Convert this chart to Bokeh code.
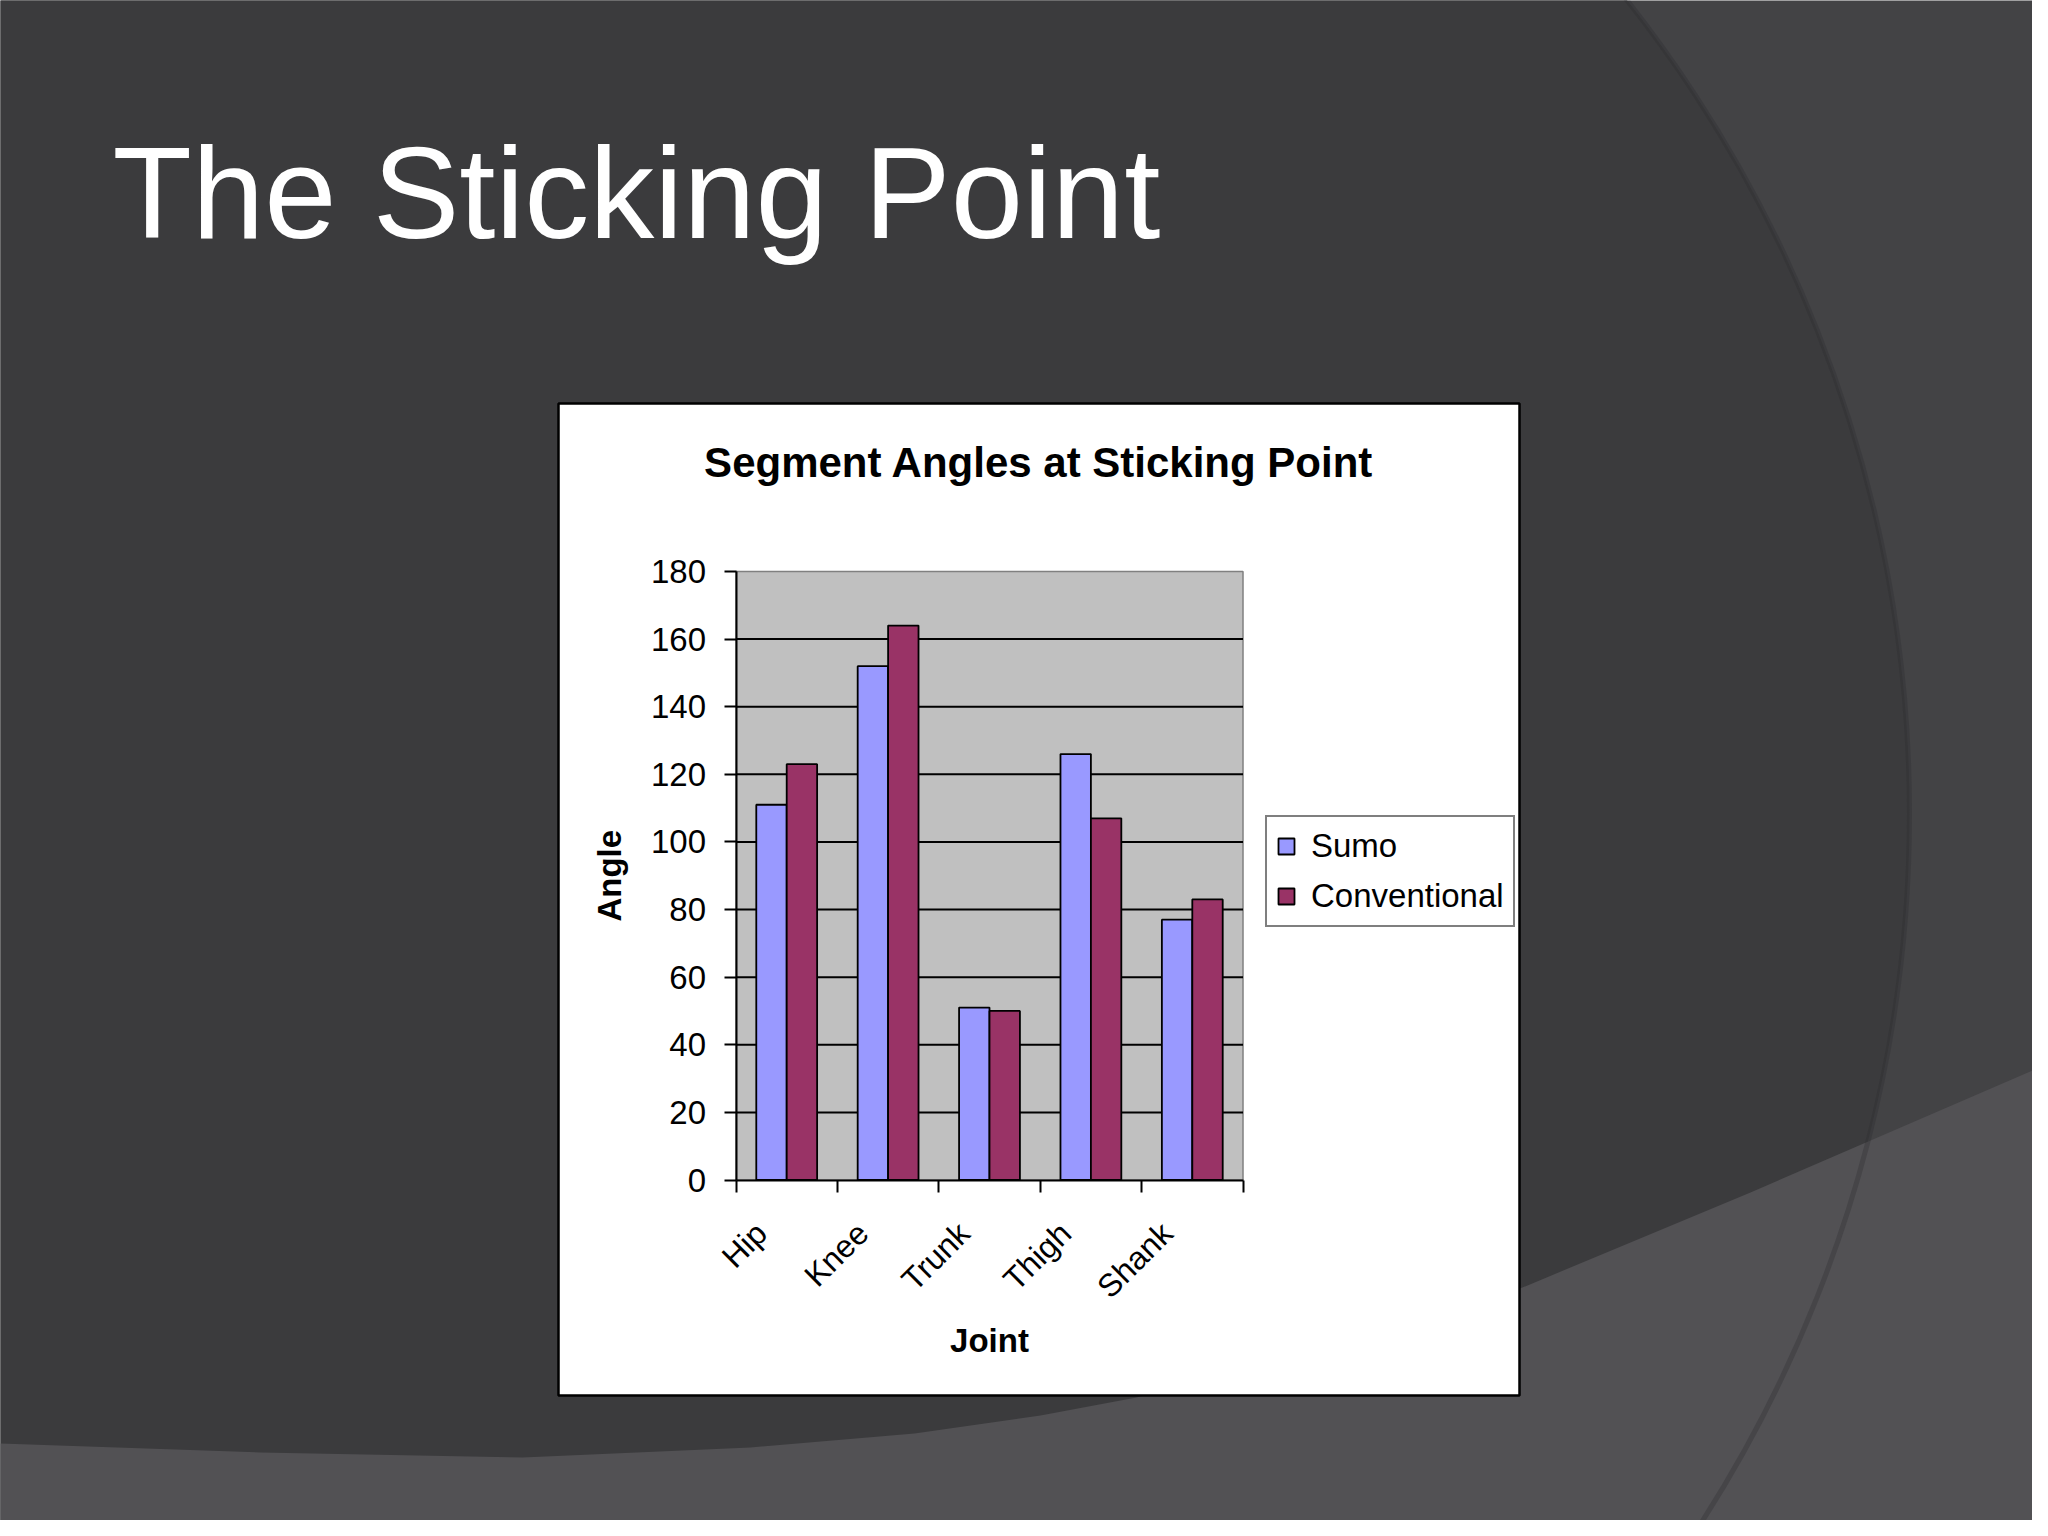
import math

import numpy as np
from bokeh.plotting import figure
from bokeh.models import Range1d, LinearAxis, FixedTicker, Label, Legend, LegendItem
from bokeh.embed import file_html
from bokeh.resources import INLINE


# Chart data
joints = ["Hip", "Knee", "Trunk", "Thigh", "Shank"]
sumo = [111, 152, 51, 126, 77]
conventional = [123, 164, 50, 107, 83]
y_ticks = [0, 20, 40, 60, 80, 100, 120, 140, 160, 180]

# Page layout, in slide pixels
X0, X1, Y0, Y1 = 0, 2032, 0, 1520
PLOT_L, PLOT_R, PLOT_T, PLOT_B = 735.5, 1242.5, 571, 1179.5
BOX = dict(left=558, right=1519, top=403, bottom=1395)

# slide backdrop shapes
ARC_X, ARC_Y, ARC_R = 597, 813, 1312
BAND_X = [0, 260, 522, 750, 914, 1040, 1136, 1300, 1522, 1750, 2048, 2048, 0]
BAND_Y = [1443, 1452, 1457, 1447, 1433, 1415, 1397, 1355, 1287, 1192, 1063, 1536, 1536]

FONT = "Liberation Sans"
SUMO_COLOR = "#9999ff"
CONV_COLOR = "#993366"
LABEL_SHIFT = -0.25   # excel sets rotated category names left of centre

n = len(joints)
idx = np.arange(n)
y_max = y_ticks[-1]

# extra ranges so that the chart's plot area lands on its box in the slide
ppu_y = (PLOT_B - PLOT_T) / y_max
ang_start = 0 - (Y1 - PLOT_B) / ppu_y
ang_end = y_max + (PLOT_T - Y0) / ppu_y
ppu_x = (PLOT_R - PLOT_L) / n
cat_lo, cat_hi = -0.5, n - 0.5
cat_start = cat_lo - (PLOT_L - X0) / ppu_x
cat_end = cat_hi + (X1 - PLOT_R) / ppu_x

p = figure(
    width=X1 - X0,
    height=Y1 - Y0,
    x_range=Range1d(X0, X1),
    y_range=Range1d(Y1, Y0),
    x_axis_type=None,
    y_axis_type=None,
    toolbar_location=None,
    output_backend="svg",
    min_border=0,
)
p.outline_line_color = None
p.background_fill_color = "#434345"
p.border_fill_color = "#434345"
p.extra_x_ranges = {"cat": Range1d(cat_start, cat_end)}
p.extra_y_ranges = {"ang": Range1d(ang_start, ang_end)}

# slide background
p.circle(x=[ARC_X], y=[ARC_Y], radius=ARC_R, fill_color="#3b3b3d", line_color=None)
p.patch(BAND_X, BAND_Y, fill_color="#525154", line_color=None)
p.circle(x=[ARC_X], y=[ARC_Y], radius=ARC_R, fill_color=None,
         line_color="#2b2b2d", line_width=5, line_alpha=0.3)

# chart box
p.quad(fill_color="white", line_color="black", line_width=2.5, **BOX)

# plot area + gridlines
p.quad(left=cat_lo, right=cat_hi, bottom=0, top=y_max,
       x_range_name="cat", y_range_name="ang",
       fill_color="#c0c0c0", line_color="#808080", line_width=1.5)
grid_vals = y_ticks[1:-1]
p.segment(x0=cat_lo, x1=cat_hi, y0=grid_vals, y1=grid_vals,
          x_range_name="cat", y_range_name="ang",
          line_color="black", line_width=2)

# bars
r_sumo = p.vbar(x=idx - 0.15, width=0.3, top=sumo, bottom=0,
                x_range_name="cat", y_range_name="ang",
                fill_color=SUMO_COLOR, line_color="black", line_width=1.8)
r_conv = p.vbar(x=idx + 0.15, width=0.3, top=conventional, bottom=0,
                x_range_name="cat", y_range_name="ang",
                fill_color=CONV_COLOR, line_color="black", line_width=1.8)

# y axis
yaxis = LinearAxis(y_range_name="ang", fixed_location=PLOT_L, bounds=(0, y_max),
                   ticker=FixedTicker(ticks=y_ticks, minor_ticks=[]))
yaxis.axis_line_color = "black"
yaxis.axis_line_width = 2
yaxis.major_tick_line_color = "black"
yaxis.major_tick_line_width = 2
yaxis.major_tick_out = 12
yaxis.major_tick_in = 0
yaxis.minor_tick_line_color = None
yaxis.major_label_standoff = 18
yaxis.major_label_text_font = FONT
yaxis.major_label_text_font_size = "33px"
yaxis.major_label_text_color = "black"
p.add_layout(yaxis, "left")

# x axis: ticks on category boundaries
bounds_ticks = [float(t) for t in np.append(idx - 0.5, idx[-1] + 0.5)]
xaxis = LinearAxis(x_range_name="cat", fixed_location=PLOT_B, bounds=(cat_lo, cat_hi),
                   ticker=FixedTicker(ticks=bounds_ticks, minor_ticks=[]))
xaxis.axis_line_color = "black"
xaxis.axis_line_width = 2
xaxis.major_tick_line_color = "black"
xaxis.major_tick_line_width = 2
xaxis.major_tick_out = 12
xaxis.major_tick_in = 0
xaxis.minor_tick_line_color = None
xaxis.major_label_text_color = None
p.add_layout(xaxis, "below")

# x axis: category names
label_ticks = [float(i) + LABEL_SHIFT for i in idx]
xlab = LinearAxis(x_range_name="cat", fixed_location=PLOT_B,
                  ticker=FixedTicker(ticks=label_ticks, minor_ticks=[]))
xlab.major_label_overrides = {t: name for t, name in zip(label_ticks, joints)}
xlab.axis_line_color = None
xlab.major_tick_line_color = None
xlab.minor_tick_line_color = None
xlab.major_tick_out = 0
xlab.major_tick_in = 0
xlab.major_label_orientation = math.pi / 4
xlab.major_label_standoff = 48
xlab.major_label_text_font = FONT
xlab.major_label_text_font_size = "32px"
xlab.major_label_text_color = "black"
p.add_layout(xlab, "below")

# texts (anchored at their middle)
p.add_layout(Label(x=112, y=192, text="The Sticking Point", text_font=FONT,
                   text_font_size="130px", text_color="white",
                   text_baseline="middle"))
p.add_layout(Label(x=(BOX["left"] + BOX["right"]) / 2, y=462,
                   text="Segment Angles at Sticking Point", text_font=FONT,
                   text_font_size="42px", text_font_style="bold", text_color="black",
                   text_align="center", text_baseline="middle"))
p.add_layout(Label(x=609, y=(PLOT_T + PLOT_B) / 2, text="Angle", angle=math.pi / 2,
                   text_font=FONT, text_font_size="33px", text_font_style="bold",
                   text_color="black", text_align="center", text_baseline="middle"))
p.add_layout(Label(x=(PLOT_L + PLOT_R) / 2, y=1340, text="Joint", text_font=FONT,
                   text_font_size="33px", text_font_style="bold", text_color="black",
                   text_align="center", text_baseline="middle"))

# legend
legend = Legend(
    items=[LegendItem(label="Sumo", renderers=[r_sumo]),
           LegendItem(label="Conventional", renderers=[r_conv])],
    location=(1265 - X0, Y1 - 927),
)
legend.margin = 0
legend.padding = 9
legend.spacing = 10
legend.glyph_width = 20
legend.glyph_height = 20
legend.label_height = 40
legend.label_standoff = 15
legend.label_text_font = FONT
legend.label_text_font_size = "33px"
legend.label_text_color = "black"
legend.border_line_color = "black"
legend.border_line_width = 2
legend.background_fill_color = "white"
legend.background_fill_alpha = 1.0
p.add_layout(legend)

open("out.html", "w").write(file_html(p, INLINE))
